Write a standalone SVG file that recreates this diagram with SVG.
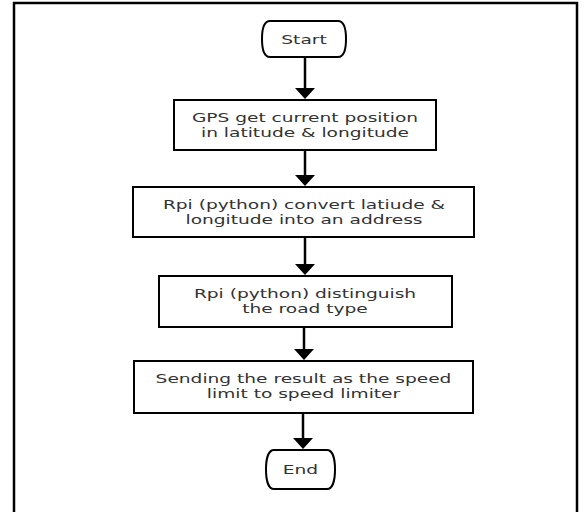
<svg xmlns="http://www.w3.org/2000/svg" width="587" height="512" viewBox="0 0 587 512">
<defs>
<style>
.frame{fill:none;stroke:#000;stroke-width:2.5}
.box{fill:#fff;stroke:#000;stroke-width:2}
.conn{stroke:#000;stroke-width:2.5;fill:none}
.head{fill:#000}
.t{font-family:"DejaVu Sans",sans-serif;font-size:13px;fill:#333;text-anchor:middle}
</style>
</defs>
<rect width="587" height="512" fill="#fff"/>
<rect class="frame" x="14" y="3" width="563" height="515"/>
<g id="connectors">
<line class="conn" x1="305" y1="57" x2="305" y2="90"/>
<path class="head" d="M295 88 L315 88 L305 99 Z"/>
<line class="conn" x1="305" y1="150" x2="305" y2="177"/>
<path class="head" d="M295 175 L315 175 L305 186 Z"/>
<line class="conn" x1="305" y1="237" x2="305" y2="266"/>
<path class="head" d="M295 264 L315 264 L305 275 Z"/>
<line class="conn" x1="304" y1="327" x2="304" y2="351"/>
<path class="head" d="M294 349 L314 349 L304 360 Z"/>
<line class="conn" x1="303" y1="413" x2="303" y2="440"/>
<path class="head" d="M293 438 L313 438 L303 449 Z"/>
</g>
<g id="start">
<path class="box" d="M270 21 H338 C344 21 346 30 346 39 C346 48 344 57 338 57 H270 C264 57 262 48 262 39 C262 30 264 21 270 21 Z"/>
<text class="t" transform="translate(304 43.5) scale(1.43 1)">Start</text>
</g>
<g id="gps">
<rect class="box" x="174" y="100" width="262" height="50"/>
<text class="t" transform="translate(305 122) scale(1.43 1)">GPS get current position</text>
<text class="t" transform="translate(305 137) scale(1.43 1)">in latitude &amp; longitude</text>
</g>
<g id="convert">
<rect class="box" x="133" y="187" width="341" height="50"/>
<text class="t" transform="translate(304 209) scale(1.43 1)">Rpi (python) convert latiude &amp;</text>
<text class="t" transform="translate(304 224) scale(1.43 1)">longitude into an address</text>
</g>
<g id="distinguish">
<rect class="box" x="159" y="276" width="293" height="51"/>
<text class="t" transform="translate(305 297.5) scale(1.43 1)">Rpi (python) distinguish</text>
<text class="t" transform="translate(305 312.5) scale(1.43 1)">the road type</text>
</g>
<g id="sending">
<rect class="box" x="134" y="361" width="339" height="52"/>
<text class="t" transform="translate(303.5 383) scale(1.43 1)">Sending the result as the speed</text>
<text class="t" transform="translate(303.5 398) scale(1.43 1)">limit to speed limiter</text>
</g>
<g id="end">
<path class="box" d="M274 450 H327 C333 450 335 460 335 469.5 C335 479 333 489 327 489 H274 C268 489 266 479 266 469.5 C266 460 268 450 274 450 Z"/>
<text class="t" transform="translate(300.5 474) scale(1.43 1)">End</text>
</g>
</svg>
